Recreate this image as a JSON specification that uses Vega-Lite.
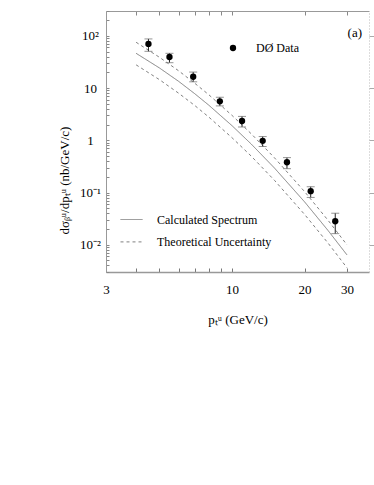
{
  "$schema": "https://vega.github.io/schema/vega-lite/v6.json",
  "width": 263,
  "height": 261,
  "autosize": {"type": "none"},
  "padding": {"left": 106, "top": 11, "right": 5, "bottom": 213},
  "background": "white",
  "config": {"font": "Liberation Serif", "view": {"stroke": null}, "axis": {"grid": false}},
  "title": {"text": "(a)", "anchor": "end", "frame": "group", "orient": "top", "fontSize": 13, "fontWeight": "normal", "font": "Liberation Serif", "baseline": "middle", "offset": 0, "dx": -7, "dy": 41},
  "datasets": {
    "points": [
      {"pt": 4.5, "xs": 70.1, "lo": 50.7, "hi": 87.5},
      {"pt": 5.5, "xs": 39.4, "lo": 30.7, "hi": 46.4},
      {"pt": 6.9, "xs": 16.5, "lo": 13.2, "hi": 20.3},
      {"pt": 8.9, "xs": 5.59, "lo": 4.56, "hi": 6.68},
      {"pt": 11.0, "xs": 2.34, "lo": 1.80, "hi": 2.87},
      {"pt": 13.4, "xs": 0.978, "lo": 0.760, "hi": 1.18},
      {"pt": 16.9, "xs": 0.380, "lo": 0.286, "hi": 0.466},
      {"pt": 21.2, "xs": 0.106, "lo": 0.0805, "hi": 0.129},
      {"pt": 26.8, "xs": 0.0281, "lo": 0.0163, "hi": 0.0401}
    ],
    "curves": [
      {"pt": 4, "v": 46.4, "band": "central", "curve": "Calculated Spectrum"},
      {"pt": 5, "v": 24.3, "band": "central", "curve": "Calculated Spectrum"},
      {"pt": 6, "v": 13.5, "band": "central", "curve": "Calculated Spectrum"},
      {"pt": 7, "v": 7.82, "band": "central", "curve": "Calculated Spectrum"},
      {"pt": 8, "v": 4.73, "band": "central", "curve": "Calculated Spectrum"},
      {"pt": 10, "v": 1.905, "band": "central", "curve": "Calculated Spectrum"},
      {"pt": 12, "v": 0.852, "band": "central", "curve": "Calculated Spectrum"},
      {"pt": 15, "v": 0.294, "band": "central", "curve": "Calculated Spectrum"},
      {"pt": 20, "v": 0.0661, "band": "central", "curve": "Calculated Spectrum"},
      {"pt": 25, "v": 0.0188, "band": "central", "curve": "Calculated Spectrum"},
      {"pt": 30, "v": 0.00635, "band": "central", "curve": "Calculated Spectrum"},
      {"pt": 4, "v": 75.5, "band": "upper", "curve": "Theoretical Uncertainty"},
      {"pt": 5, "v": 38.9, "band": "upper", "curve": "Theoretical Uncertainty"},
      {"pt": 6, "v": 21.5, "band": "upper", "curve": "Theoretical Uncertainty"},
      {"pt": 7, "v": 12.4, "band": "upper", "curve": "Theoretical Uncertainty"},
      {"pt": 8, "v": 7.5, "band": "upper", "curve": "Theoretical Uncertainty"},
      {"pt": 10, "v": 3.0, "band": "upper", "curve": "Theoretical Uncertainty"},
      {"pt": 12, "v": 1.34, "band": "upper", "curve": "Theoretical Uncertainty"},
      {"pt": 15, "v": 0.462, "band": "upper", "curve": "Theoretical Uncertainty"},
      {"pt": 20, "v": 0.104, "band": "upper", "curve": "Theoretical Uncertainty"},
      {"pt": 25, "v": 0.0295, "band": "upper", "curve": "Theoretical Uncertainty"},
      {"pt": 30, "v": 0.0099, "band": "upper", "curve": "Theoretical Uncertainty"},
      {"pt": 4, "v": 27.9, "band": "lower", "curve": "Theoretical Uncertainty"},
      {"pt": 5, "v": 14.5, "band": "lower", "curve": "Theoretical Uncertainty"},
      {"pt": 6, "v": 8.0, "band": "lower", "curve": "Theoretical Uncertainty"},
      {"pt": 7, "v": 4.65, "band": "lower", "curve": "Theoretical Uncertainty"},
      {"pt": 8, "v": 2.8, "band": "lower", "curve": "Theoretical Uncertainty"},
      {"pt": 10, "v": 1.12, "band": "lower", "curve": "Theoretical Uncertainty"},
      {"pt": 12, "v": 0.50, "band": "lower", "curve": "Theoretical Uncertainty"},
      {"pt": 15, "v": 0.171, "band": "lower", "curve": "Theoretical Uncertainty"},
      {"pt": 20, "v": 0.038, "band": "lower", "curve": "Theoretical Uncertainty"},
      {"pt": 25, "v": 0.0108, "band": "lower", "curve": "Theoretical Uncertainty"},
      {"pt": 30, "v": 0.0036, "band": "lower", "curve": "Theoretical Uncertainty"}
    ]
  },
  "resolve": {"axis": {"x": "independent", "y": "independent"}},
  "layer": [
    {
      "data": {"name": "curves"},
      "mark": {"type": "line", "color": "#808080", "strokeWidth": 1},
      "encoding": {
        "x": {"field": "pt", "type": "quantitative",
          "scale": {"type": "log", "domain": [3, 37], "nice": false},
          "axis": {"orient": "bottom", "values": [3, 4, 5, 6, 7, 8, 9, 10, 20, 30],
            "labelExpr": "datum.value == 3 || datum.value == 10 || datum.value == 20 || datum.value == 30 ? '' + datum.value : ''",
            "tickSize": -4, "tickColor": "#777", "domainColor": "#999", "domainWidth": 1.5,
            "labelFontSize": 13, "labelPadding": 15, "labelFlush": false, "labelOverlap": false, "labelColor": "black",
            "title": "pₜᵘ  (GeV/c)", "titleFontSize": 13, "titleFontWeight": "normal", "titleColor": "black", "titlePadding": 17}},
        "y": {"field": "v", "type": "quantitative",
          "scale": {"type": "log", "domain": [0.003, 300], "nice": false},
          "axis": {"orient": "left",
            "values": [0.003, 0.004, 0.005, 0.006, 0.007, 0.008, 0.009, 0.01, 0.02, 0.03, 0.04, 0.05, 0.06, 0.07, 0.08, 0.09, 0.1, 0.2, 0.3, 0.4, 0.5, 0.6, 0.7, 0.8, 0.9, 1, 2, 3, 4, 5, 6, 7, 8, 9, 10, 20, 30, 40, 50, 60, 70, 80, 90, 100, 200, 300],
            "labelExpr": "datum.value == 100 ? '10²' : datum.value == 10 ? '10' : datum.value == 1 ? '1' : datum.value == 0.1 ? '10⁻¹' : datum.value == 0.01 ? '10⁻²' : ''",
            "tickSize": -3, "tickColor": "#888", "domainColor": "#999", "domainWidth": 1,
            "labelFontSize": 13, "labelPadding": 19, "labelAlign": "center", "labelBaseline": "middle", "labelFlush": false, "labelOverlap": false, "labelColor": "black",
            "title": "dσᵦᵘ/dpₜᵘ  (nb/GeV/c)", "titleFontSize": 13, "titleFontWeight": "normal", "titleColor": "black",
            "titleX": -42, "titleY": 169, "titleAlign": "center", "titleBaseline": "middle", "titleAngle": -90}},
        "detail": {"field": "band"},
        "strokeDash": {"field": "curve", "type": "nominal",
          "scale": {"domain": ["Calculated Spectrum", "Theoretical Uncertainty"], "range": [[1, 0], [3, 3]]},
          "legend": {"orient": "none", "legendX": 14, "legendY": 197, "title": null, "symbolType": "stroke", "symbolSize": 484,
            "symbolStrokeColor": "#808080", "symbolStrokeWidth": 1, "labelFontSize": 12, "labelOffset": 14, "rowPadding": 4.4, "padding": 0, "labelColor": "black"}}
      }
    },
    {
      "data": {"name": "points"},
      "mark": {"type": "rule", "color": "#222", "strokeWidth": 1},
      "encoding": {
        "x": {"field": "pt", "type": "quantitative", "scale": {"type": "log", "domain": [3, 37], "nice": false},
          "axis": {"orient": "top", "values": [4, 5, 6, 7, 8, 9, 10, 20, 30], "labels": false, "tickSize": -4, "tickColor": "#888", "domainColor": "#999", "domainWidth": 1, "title": null}},
        "y": {"field": "lo", "type": "quantitative", "scale": {"type": "log", "domain": [0.003, 300], "nice": false},
          "axis": {"orient": "right", "values": [0.01, 0.1, 1, 10, 100], "labels": false, "tickSize": 5, "tickColor": "#aaa", "domainColor": "#bbb", "domainDash": [1, 2], "title": null}},
        "y2": {"field": "hi"}
      }
    },
    {
      "data": {"name": "points"},
      "mark": {"type": "tick", "orient": "horizontal", "color": "#666", "size": 8, "thickness": 1},
      "encoding": {
        "x": {"field": "pt", "type": "quantitative", "scale": {"type": "log", "domain": [3, 37], "nice": false}, "axis": null},
        "y": {"field": "lo", "type": "quantitative", "scale": {"type": "log", "domain": [0.003, 300], "nice": false}, "axis": null}
      }
    },
    {
      "data": {"name": "points"},
      "mark": {"type": "tick", "orient": "horizontal", "color": "#666", "size": 8, "thickness": 1},
      "encoding": {
        "x": {"field": "pt", "type": "quantitative", "scale": {"type": "log", "domain": [3, 37], "nice": false}, "axis": null},
        "y": {"field": "hi", "type": "quantitative", "scale": {"type": "log", "domain": [0.003, 300], "nice": false}, "axis": null}
      }
    },
    {
      "data": {"name": "points"},
      "mark": {"type": "point", "filled": true, "shape": "circle", "size": 40, "opacity": 1},
      "encoding": {
        "x": {"field": "pt", "type": "quantitative", "scale": {"type": "log", "domain": [3, 37], "nice": false}, "axis": null},
        "y": {"field": "xs", "type": "quantitative", "scale": {"type": "log", "domain": [0.003, 300], "nice": false}, "axis": null},
        "color": {"datum": "DØ Data", "type": "nominal", "scale": {"range": ["black"]},
          "legend": {"orient": "none", "legendX": 121, "legendY": 31, "title": null, "symbolType": "circle", "symbolSize": 40,
            "symbolFillColor": "black", "symbolStrokeWidth": 0, "labelFontSize": 12, "labelOffset": 17, "padding": 0, "labelColor": "black"}}
      }
    }
  ]
}
